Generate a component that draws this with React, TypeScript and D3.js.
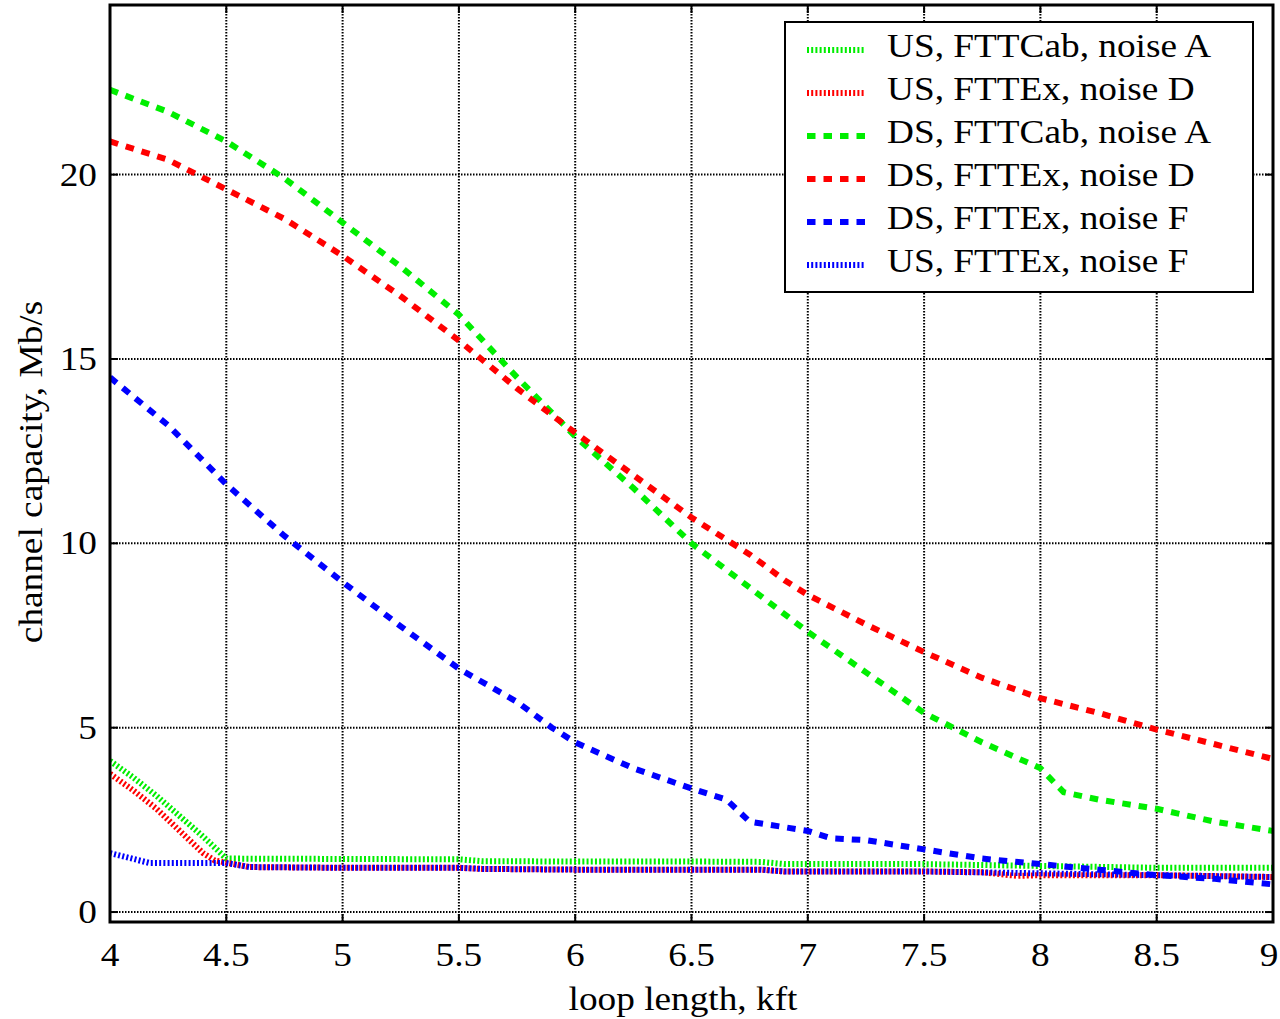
import * as d3 from "d3";

// loop length (kft) / capacity (Mb/s)
const usCabA_x = [4, 4.1, 4.2, 4.3, 4.4, 4.5, 5, 5.5, 5.6, 6, 6.5, 6.8, 6.9, 7.5, 8, 8.5, 9];
const usCabA_y = [4.1, 3.65, 3.15, 2.6, 2.05, 1.45, 1.44, 1.43, 1.38, 1.37, 1.37, 1.36, 1.3, 1.3, 1.25, 1.2, 1.2];

const usExD_x = [4, 4.1, 4.2, 4.3, 4.4, 4.45, 4.6, 5, 5.5, 5.6, 6, 6.5, 6.8, 6.9, 7.5, 7.75, 7.9, 8, 8.5, 9];
const usExD_y = [3.75, 3.3, 2.8, 2.2, 1.6, 1.4, 1.22, 1.2, 1.2, 1.17, 1.15, 1.15, 1.15, 1.1, 1.1, 1.08, 0.98, 1.0, 1.0, 0.95];

const dsCabA_x = [4, 4.25, 4.5, 4.75, 5, 5.25, 5.5, 5.75, 6, 6.25, 6.5, 6.75, 7, 7.25, 7.5, 7.75, 8, 8.1, 8.25, 8.5, 8.75, 9];
const dsCabA_y = [22.3, 21.7, 20.9, 19.9, 18.7, 17.5, 16.2, 14.5, 12.9, 11.5, 10.0, 8.8, 7.6, 6.5, 5.4, 4.6, 3.9, 3.25, 3.05, 2.8, 2.45, 2.2];

const dsExD_x = [4, 4.25, 4.5, 4.75, 5, 5.25, 5.5, 5.75, 6, 6.25, 6.5, 6.75, 6.9, 7, 7.25, 7.5, 7.75, 8, 8.25, 8.5, 8.75, 9];
const dsExD_y = [20.9, 20.4, 19.6, 18.8, 17.8, 16.7, 15.5, 14.2, 13.0, 11.85, 10.7, 9.7, 9.0, 8.6, 7.8, 7.05, 6.35, 5.8, 5.4, 4.95, 4.55, 4.15];

const dsExF_x = [4, 4.25, 4.5, 4.75, 5, 5.25, 5.5, 5.75, 5.9, 6, 6.25, 6.5, 6.65, 6.75, 7, 7.1, 7.25, 7.5, 7.75, 8, 8.25, 8.5, 8.75, 9];
const dsExF_y = [14.5, 13.2, 11.6, 10.2, 8.95, 7.75, 6.6, 5.7, 5.0, 4.6, 3.9, 3.35, 3.05, 2.45, 2.2, 2.0, 1.95, 1.7, 1.45, 1.3, 1.15, 1.0, 0.9, 0.75];

const usExF_x = [4, 4.17, 4.5, 4.6, 5, 5.5, 5.6, 6, 6.8, 6.9, 7.5, 8, 8.5, 9];
const usExF_y = [1.6, 1.33, 1.33, 1.22, 1.2, 1.2, 1.17, 1.15, 1.15, 1.1, 1.1, 1.05, 1.0, 0.95];

const xTicks = [4, 4.5, 5, 5.5, 6, 6.5, 7, 7.5, 8, 8.5, 9];
const yTicks = [0, 5, 10, 15, 20];

const series = [
  { name: "US, FTTCab, noise A", xs: usCabA_x, ys: usCabA_y, color: "#00ee00", dotted: true },
  { name: "US, FTTEx, noise D", xs: usExD_x, ys: usExD_y, color: "#ff0000", dotted: true },
  { name: "DS, FTTCab, noise A", xs: dsCabA_x, ys: dsCabA_y, color: "#00ee00", dotted: false },
  { name: "DS, FTTEx, noise D", xs: dsExD_x, ys: dsExD_y, color: "#ff0000", dotted: false },
  { name: "DS, FTTEx, noise F", xs: dsExF_x, ys: dsExF_y, color: "#0000ff", dotted: false },
  { name: "US, FTTEx, noise F", xs: usExF_x, ys: usExF_y, color: "#0000ff", dotted: true },
];

const W = 1280;
const H = 1019;
const left = 110, right = 1273, top = 5, bottom = 922;
const font = "'Liberation Serif', 'Times New Roman', serif";
const fs = 33;
const sx = 1.13;

const dash = (dotted: boolean) => (dotted ? "2 2.2" : "8.5 8");

const Txt = ({ x, y, anchor, children, rotate }: any) => (
  <g transform={`translate(${x},${y}) rotate(${rotate || 0}) scale(${sx},1)`}>
    <text x={0} y={0} textAnchor={anchor} fontFamily={font} fontSize={fs} fill="#000">
      {children}
    </text>
  </g>
);

export default function App() {
  const x = d3.scaleLinear().domain([4, 9]).range([left, right]);
  const y = d3.scaleLinear().domain([-0.27, 24.6]).range([bottom, top]);

  const pathFor = (xs: number[], ys: number[]) =>
    d3
      .line<number>()
      .x((_, i) => x(xs[i]))
      .y((_, i) => y(ys[i]))(xs) || "";

  return (
    <svg
      width={W}
      height={H}
      style={{ position: "absolute", left: 0, top: 0, background: "#fff" }}
    >
      <defs>
        <clipPath id="plot">
          <rect x={left} y={top} width={right - left} height={bottom - top} />
        </clipPath>
      </defs>
      <rect x={0} y={0} width={W} height={H} fill="#fff" />

      {/* grid */}
      {xTicks.slice(1, -1).map((t) => (
        <line key={"gx" + t} x1={x(t)} x2={x(t)} y1={top} y2={bottom} stroke="#000" strokeWidth={2} strokeDasharray="1.5 1.5" />
      ))}
      {yTicks.map((t) => (
        <line key={"gy" + t} x1={left} x2={right} y1={y(t)} y2={y(t)} stroke="#000" strokeWidth={2} strokeDasharray="1.5 1.5" />
      ))}

      {/* ticks */}
      {xTicks.map((t) => (
        <g key={"tx" + t}>
          <line x1={x(t)} x2={x(t)} y1={bottom} y2={bottom - 8} stroke="#000" strokeWidth={2} />
          <line x1={x(t)} x2={x(t)} y1={top} y2={top + 8} stroke="#000" strokeWidth={2} />
        </g>
      ))}
      {yTicks.map((t) => (
        <g key={"ty" + t}>
          <line x1={left} x2={left + 8} y1={y(t)} y2={y(t)} stroke="#000" strokeWidth={2} />
          <line x1={right} x2={right - 8} y1={y(t)} y2={y(t)} stroke="#000" strokeWidth={2} />
        </g>
      ))}

      {/* series */}
      <g clipPath="url(#plot)">
        {series.map((s) => (
          <path
            key={s.name}
            d={pathFor(s.xs, s.ys)}
            fill="none"
            stroke={s.color}
            strokeWidth={6}
            strokeDasharray={dash(s.dotted)}
          />
        ))}
      </g>

      {/* frame */}
      <rect x={left} y={top} width={right - left} height={bottom - top} fill="none" stroke="#000" strokeWidth={3} />

      {/* tick labels */}
      {xTicks.map((t) => (
        <Txt key={"lx" + t} x={Math.min(x(t), W - 11)} y={966} anchor="middle">
          {String(t)}
        </Txt>
      ))}
      {yTicks.map((t) => (
        <Txt key={"ly" + t} x={97} y={y(t) + 11} anchor="end">
          {String(t)}
        </Txt>
      ))}

      {/* axis titles */}
      <Txt x={683} y={1010} anchor="middle">
        loop length, kft
      </Txt>
      <Txt x={42} y={472} anchor="middle" rotate={-90}>
        channel capacity, Mb/s
      </Txt>

      {/* legend */}
      <rect x={785} y={22} width={468} height={270} fill="#fff" stroke="#000" strokeWidth={2} />
      {series.map((s, i) => {
        const by = 57 + i * 43;
        return (
          <g key={"lg" + s.name}>
            <line
              x1={807}
              x2={865}
              y1={by - 7}
              y2={by - 7}
              stroke={s.color}
              strokeWidth={6}
              strokeDasharray={dash(s.dotted)}
            />
            <Txt x={887} y={by} anchor="start">
              {s.name}
            </Txt>
          </g>
        );
      })}
    </svg>
  );
}
